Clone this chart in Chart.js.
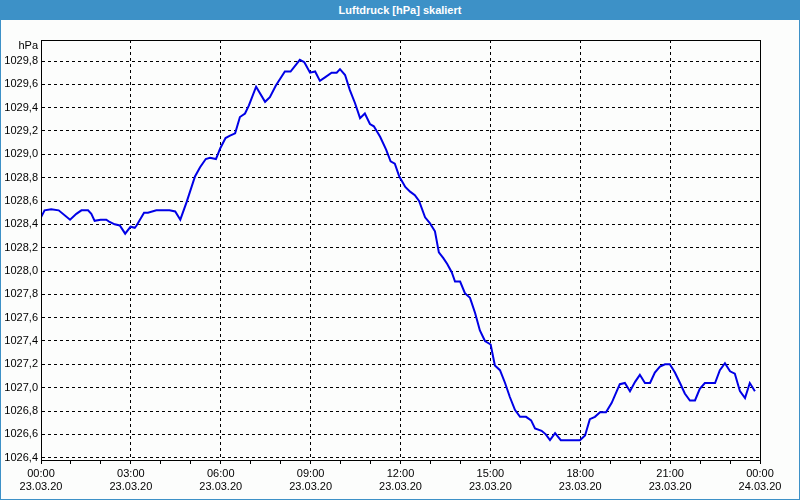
<!DOCTYPE html>
<html>
<head>
<meta charset="utf-8">
<script src="https://cdn.jsdelivr.net/npm/chart.js@4/dist/chart.umd.min.js"></script>
<style>
  body { margin: 0; background: #fcfdfc; }
  #frame { width: 800px; height: 500px; box-sizing: border-box; border: 1px solid #3d91c7; border-top: none; }
  #head { height: 20px; background: #3d91c7; color: #fff; font: bold 11px "Liberation Sans", Arial, sans-serif;
          text-align: center; line-height: 20px; margin: 0 -1px; }
  #box { position: relative; width: 798px; height: 479px; }
</style>
</head>
<body>
<div id="frame">
  <div id="head">Luftdruck [hPa] skaliert</div>
  <div id="box"><canvas id="druckChart"></canvas></div>
</div>
<script>
// Messzeitpunkte (Stunden ab 23.03.20 00:00) und Luftdruck in hPa
const hours = [0, 0.12, 0.34, 0.59, 0.97, 1.18, 1.35, 1.57, 1.68, 1.79, 1.99, 2.18, 2.29, 2.46, 2.63, 2.81, 2.99, 3.13, 3.19, 3.44,
    3.57, 3.85, 4.29, 4.48, 4.65, 4.86, 5.14, 5.31, 5.50, 5.64, 5.84, 5.98, 6.16, 6.31, 6.48, 6.64, 6.81, 6.94, 7.18, 7.48,
    7.64, 7.84, 8.14, 8.33, 8.64, 8.79, 8.98, 9.15, 9.31, 9.48, 9.70, 9.87, 9.98, 10.15, 10.31, 10.48, 10.65, 10.81, 10.98, 11.11,
    11.32, 11.52, 11.67, 11.81, 11.96, 12.16, 12.32, 12.48, 12.62, 12.82, 12.98, 13.15, 13.28, 13.43, 13.56, 13.71, 13.82, 13.99, 14.15, 14.32,
    14.49, 14.65, 14.82, 15.01, 15.15, 15.32, 15.49, 15.65, 15.82, 15.99, 16.19, 16.36, 16.49, 16.71, 16.85, 16.99, 17.16, 17.35, 17.99, 18.16,
    18.32, 18.49, 18.66, 18.86, 19.05, 19.32, 19.49, 19.66, 19.83, 19.99, 20.16, 20.33, 20.49, 20.66, 20.83, 20.99, 21.16, 21.33, 21.49, 21.66,
    21.83, 21.99, 22.16, 22.50, 22.66, 22.83, 23.00, 23.16, 23.33, 23.50, 23.66, 23.83];
const druck = [1028.46, 1028.52, 1028.53, 1028.52, 1028.44, 1028.49, 1028.52, 1028.52, 1028.49, 1028.43, 1028.44, 1028.44, 1028.42, 1028.40, 1028.39, 1028.32, 1028.38, 1028.37, 1028.39, 1028.50,
    1028.50, 1028.52, 1028.52, 1028.51, 1028.44, 1028.59, 1028.81, 1028.89, 1028.96, 1028.97, 1028.96, 1029.05, 1029.14, 1029.16, 1029.18, 1029.32, 1029.35, 1029.42, 1029.58, 1029.45,
    1029.49, 1029.59, 1029.71, 1029.71, 1029.81, 1029.79, 1029.70, 1029.71, 1029.63, 1029.66, 1029.70, 1029.70, 1029.73, 1029.68, 1029.55, 1029.44, 1029.31, 1029.35, 1029.26, 1029.24,
    1029.15, 1029.04, 1028.94, 1028.92, 1028.81, 1028.72, 1028.68, 1028.65, 1028.60, 1028.46, 1028.41, 1028.34, 1028.16, 1028.11, 1028.06, 1027.99, 1027.91, 1027.91, 1027.81, 1027.77,
    1027.64, 1027.49, 1027.40, 1027.37, 1027.19, 1027.15, 1027.04, 1026.92, 1026.81, 1026.75, 1026.75, 1026.72, 1026.65, 1026.63, 1026.60, 1026.55, 1026.61, 1026.55, 1026.55, 1026.59,
    1026.73, 1026.75, 1026.79, 1026.79, 1026.87, 1027.03, 1027.04, 1026.97, 1027.05, 1027.11, 1027.04, 1027.04, 1027.13, 1027.18, 1027.20, 1027.20, 1027.13, 1027.04, 1026.95, 1026.89,
    1026.89, 1026.99, 1027.04, 1027.04, 1027.15, 1027.21, 1027.14, 1027.12, 1026.97, 1026.91, 1027.04, 1026.97];

// Beschriftung der x-Achse (alle 3 Stunden)
const tickHours = [0, 3, 6, 9, 12, 15, 18, 21, 24];
const timeLabels = ["00:00", "03:00", "06:00", "09:00", "12:00", "15:00", "18:00", "21:00", "00:00"];
const dateLabels = ["23.03.20", "23.03.20", "23.03.20", "23.03.20", "23.03.20", "23.03.20", "23.03.20", "23.03.20", "24.03.20"];

// y-Achse
const yTicks = [1026.4, 1026.6, 1026.8, 1027.0, 1027.2, 1027.4, 1027.6, 1027.8, 1028.0,
    1028.2, 1028.4, 1028.6, 1028.8, 1029.0, 1029.2, 1029.4, 1029.6, 1029.8];
const yMin = 1026.38;
const yMax = 1029.98;
const unit = "hPa";

const font = { family: "'Liberation Sans', Arial, sans-serif", size: 11 };

// Rahmen um den Plotbereich + Einheit oben links
const rahmen = {
    id: "rahmen",
    afterDraw(chart) {
        const { ctx, chartArea: a } = chart;
        ctx.save();
        ctx.strokeStyle = "#000";
        ctx.lineWidth = 1;
        ctx.strokeRect(Math.round(a.left) + 0.5, Math.round(a.top) + 0.5,
            Math.round(a.right - a.left), Math.round(a.bottom - a.top));
        ctx.fillStyle = "#000";
        ctx.font = "11px 'Liberation Sans', Arial, sans-serif";
        ctx.textAlign = "right";
        ctx.textBaseline = "middle";
        ctx.fillText(unit, a.left - 3, a.top + 6);
        ctx.restore();
    }
};

const druckChart = new Chart(document.getElementById("druckChart"), {
    type: "line",
    data: {
        datasets: [{
            label: "Luftdruck",
            data: hours.map((h, i) => ({ x: h, y: druck[i] })),
            borderColor: "#0000e6",
            borderWidth: 2,
            pointRadius: 0,
            tension: 0,
            fill: false
        }]
    },
    options: {
        responsive: true,
        maintainAspectRatio: false,
        animation: false,
        layout: { padding: { left: 0, top: 20, right: 39, bottom: 0 } },
        plugins: { legend: { display: false }, tooltip: { enabled: false } },
        scales: {
            x: {
                type: "linear",
                min: 0,
                max: 24,
                afterFit: s => { s.height = 39; },
                ticks: {
                    stepSize: 1,
                    autoSkip: false,
                    maxRotation: 0,
                    padding: 3,
                    color: "#000",
                    font: font,
                    callback: v => {
                        const i = tickHours.indexOf(v);
                        return i < 0 ? "" : [timeLabels[i], dateLabels[i]];
                    }
                },
                grid: {
                    color: c => (c.tick && c.tick.value % 3 === 0) ? "#000" : "rgba(0,0,0,0)",
                    tickColor: "#000",
                    tickLength: 4,
                    lineWidth: 1
                },
                border: { color: "#000", width: 1, dash: [3, 3] }
            },
            y: {
                min: yMin,
                max: yMax,
                afterFit: s => { s.width = 40; },
                afterBuildTicks: s => { s.ticks = yTicks.map(v => ({ value: v })); },
                ticks: {
                    autoSkip: false,
                    padding: 3,
                    color: "#000",
                    font: font,
                    callback: v => v.toFixed(1).replace(".", ",")
                },
                grid: { color: "#000", drawTicks: false, lineWidth: 1 },
                border: { color: "#000", width: 1, dash: [3, 3] }
            }
        }
    },
    plugins: [rahmen]
});
</script>
</body>
</html>
